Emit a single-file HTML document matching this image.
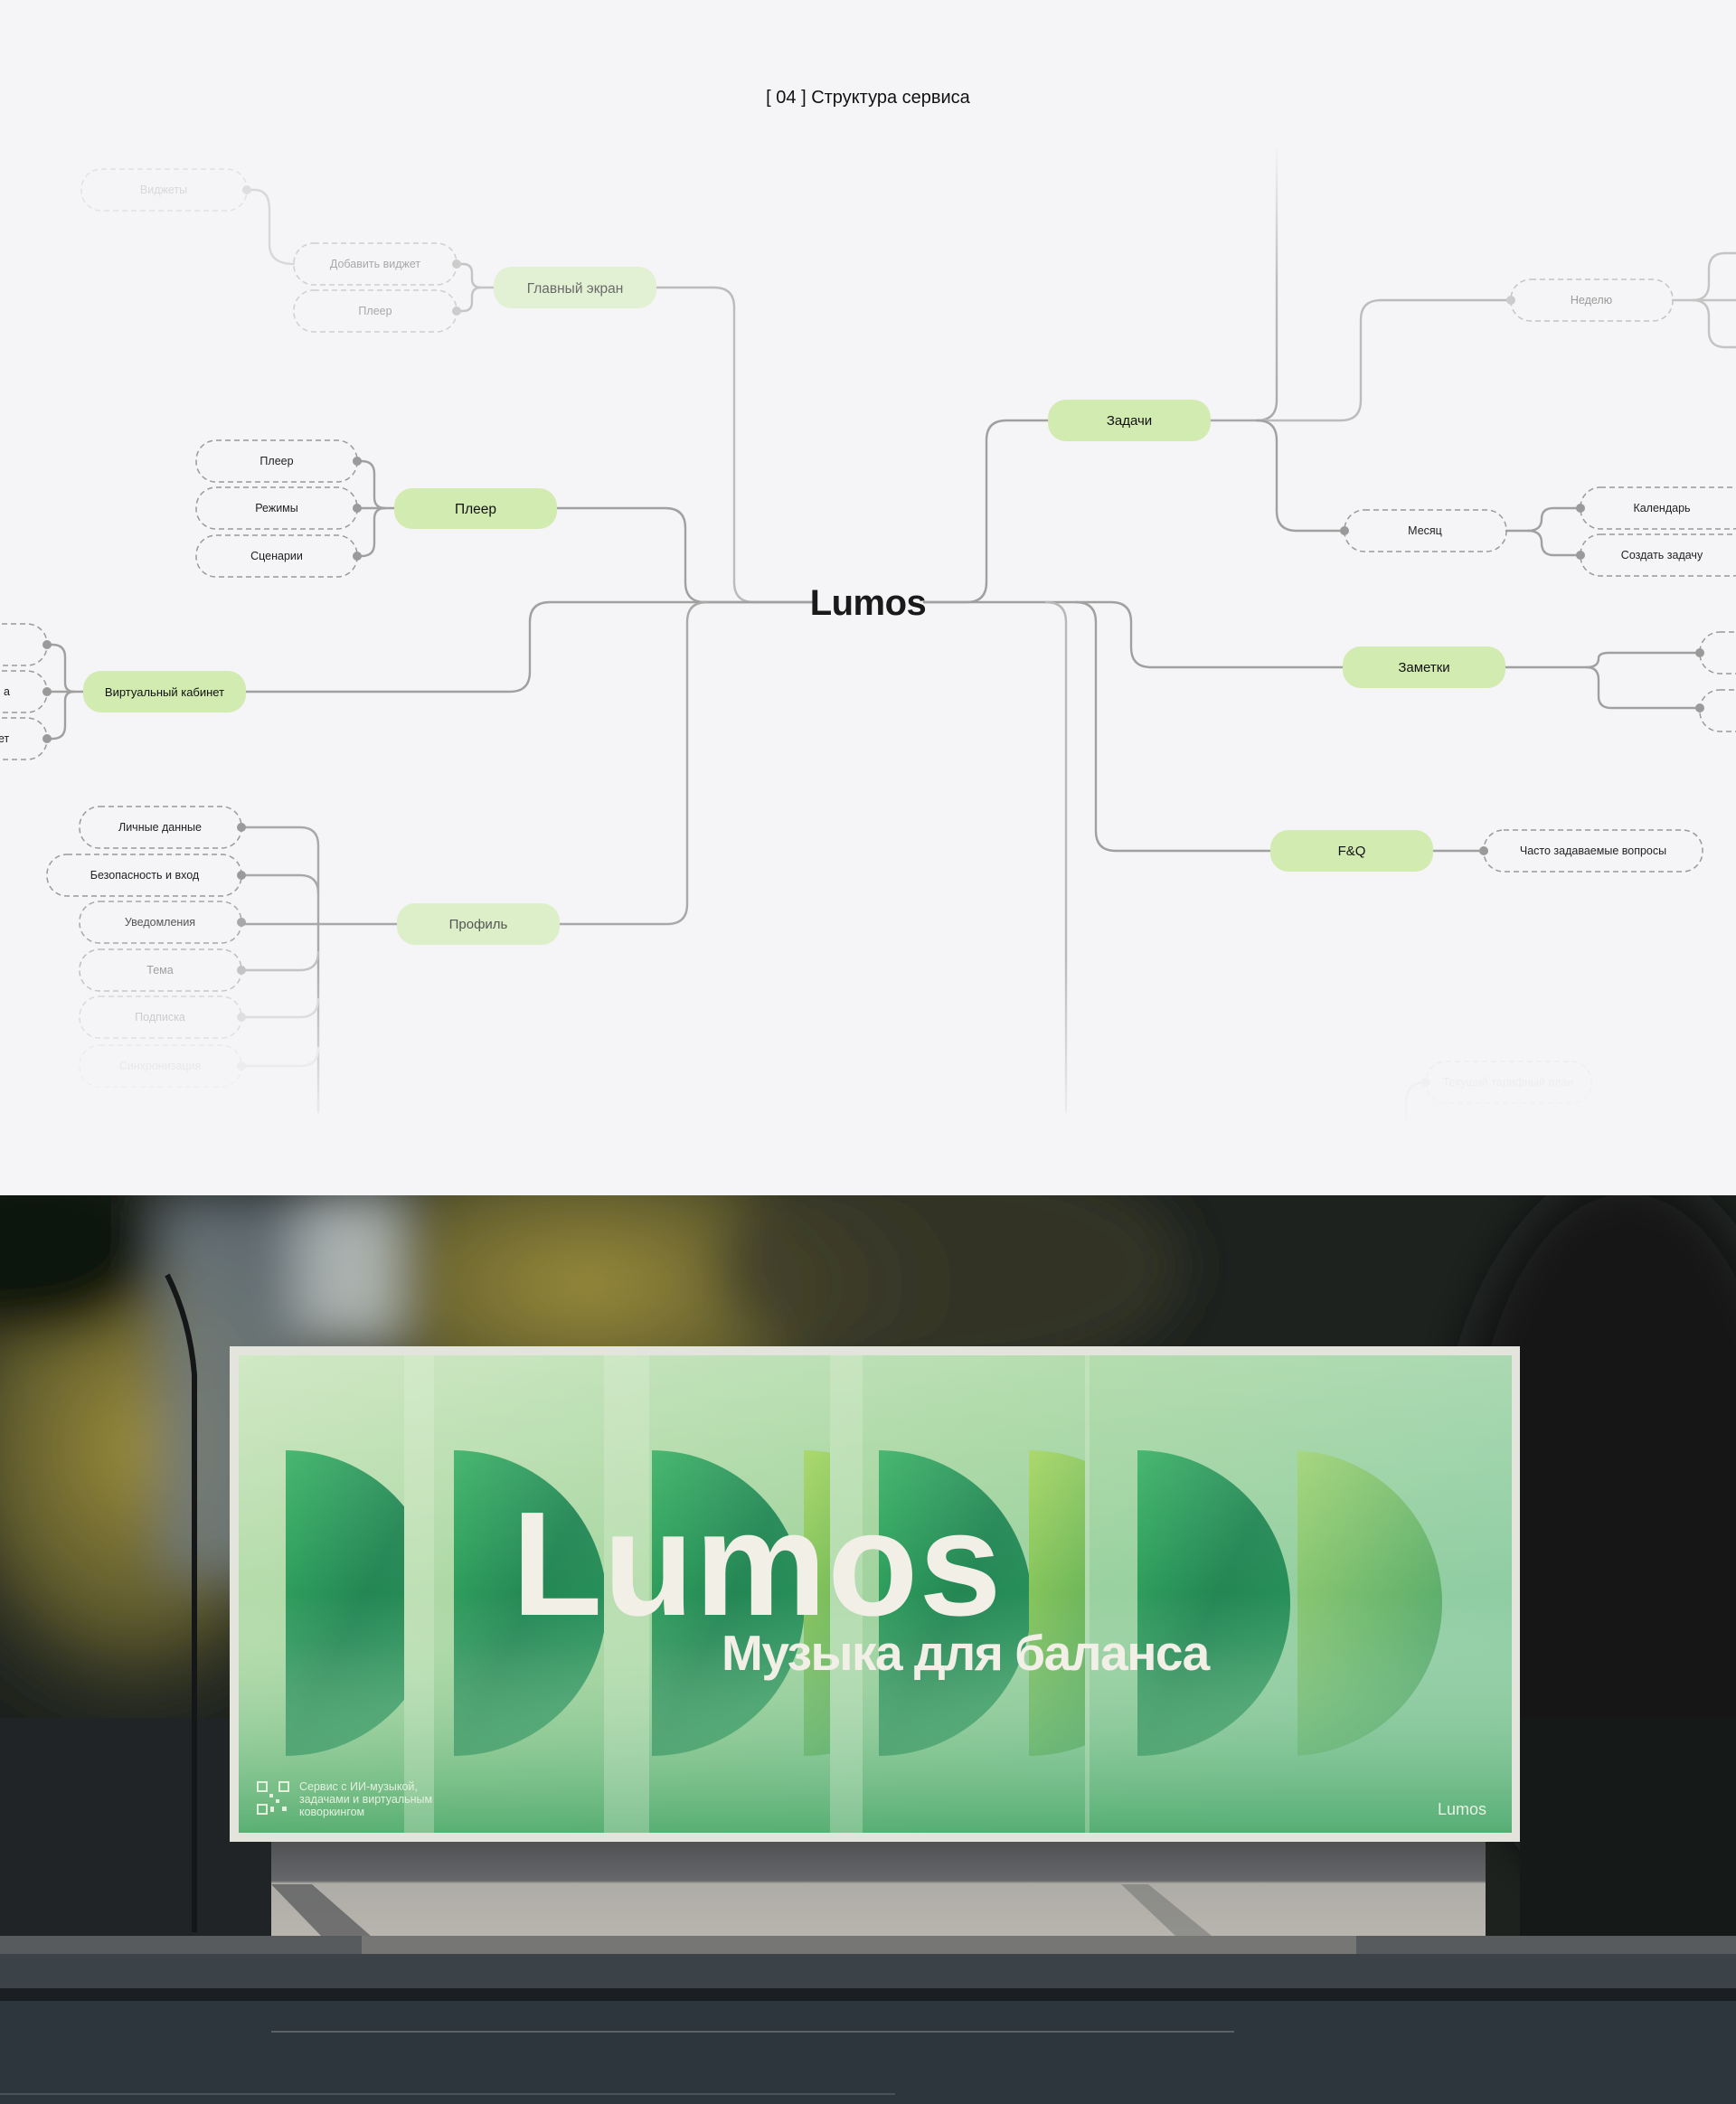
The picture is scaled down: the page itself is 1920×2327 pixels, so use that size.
<!DOCTYPE html>
<html><head><meta charset="utf-8"><style>
html,body{margin:0;padding:0;background:#f5f5f7;}
body{width:1920px;height:2327px;overflow:hidden;position:relative;font-family:"Liberation Sans","Noto Sans CJK SC",sans-serif;}
svg{position:absolute;left:0;top:0;}
</style></head><body>
<svg width="1920" height="1322" viewBox="0 0 1920 1322" font-family="Liberation Sans, Noto Sans CJK SC, sans-serif">
<defs>
<linearGradient id="fadeB" x1="0" y1="0" x2="0" y2="1"><stop offset="0" stop-color="#f5f5f7" stop-opacity="0"/><stop offset="1" stop-color="#f5f5f7" stop-opacity="1"/></linearGradient>
<linearGradient id="vfade" x1="0" y1="0" x2="0" y2="1"><stop offset="0" stop-color="#bdbdbd" stop-opacity="0"/><stop offset="0.5" stop-color="#bdbdbd"/><stop offset="1" stop-color="#a8a8a8"/></linearGradient>
</defs>
<rect width="1920" height="1322" fill="#f5f5f7"/>
<text x="960" y="114" font-size="20" text-anchor="middle" fill="#111">[ 04 ]  Структура сервиса</text>

<g fill="none" stroke-width="2.4" stroke-linecap="round">
<path d="M726,318 H790 Q812,318 812,340 V644 Q812,666 834,666 H900" stroke="#bcbcbc"/>
<path d="M616,562 H736 Q758,562 758,584 V644 Q758,666 780,666 H900" stroke="#a0a0a0"/>
<path d="M272,765 H564 Q586,765 586,743 V688 Q586,666 608,666 H900" stroke="#a0a0a0"/>
<path d="M619,1022 H738 Q760,1022 760,1000 V688 Q760,666 782,666" stroke="#a8a8a8"/>
<path d="M1022,666 H1069 Q1091,666 1091,644 V487 Q1091,465 1113,465 H1159" stroke="#a0a0a0"/>
<path d="M1022,666 H1229 Q1251,666 1251,688 V716 Q1251,738 1273,738 H1485" stroke="#a0a0a0"/>
<path d="M1190,666 Q1212,666 1212,688 V919 Q1212,941 1234,941 H1405" stroke="#a0a0a0"/>
<path d="M1157,666 Q1179,666 1179,688 V1230" stroke="#b8b8b8"/>
<path d="M1338,465 H1390 Q1412,465 1412,443 V160" stroke="url(#vfade)"/>
<path d="M1390,465 H1483 Q1505,465 1505,443 V354 Q1505,332 1527,332 H1671" stroke="#bcbcbc"/>
<path d="M1390,465 Q1412,465 1412,487 V565 Q1412,587 1434,587 H1487" stroke="#a0a0a0"/>
<path d="M1666,587 H1690 Q1705,587 1705,574 Q1705,562 1718,562 H1748" stroke="#a0a0a0"/>
<path d="M1690,587 Q1705,587 1705,600 Q1705,614 1718,614 H1748" stroke="#a0a0a0"/>
<path d="M1850,332 H1872 Q1890,332 1890,314 V298 Q1890,280 1908,280 H1920" stroke="#c4c4c4"/>
<path d="M1872,332 Q1890,332 1890,350 V366 Q1890,384 1908,384 H1920" stroke="#c4c4c4"/>
<path d="M1920,332 H1872" stroke="#c4c4c4"/>
<path d="M1665,738 H1755 Q1768,738 1768,728 Q1768,722 1780,722 H1880" stroke="#a0a0a0"/>
<path d="M1755,738 Q1768,738 1768,752 V770 Q1768,783 1782,783 H1880" stroke="#a0a0a0"/>
<path d="M1585,941 H1641" stroke="#a0a0a0"/>
<path d="M546,318 H532 Q522,318 522,308 V302 Q522,292 512,292 H505" stroke="#c4c4c4"/>
<path d="M532,318 Q522,318 522,328 V334 Q522,344 512,344 H505" stroke="#c4c4c4"/>
<path d="M325,292 Q298,292 298,270 V232 Q298,210 282,210 H273" stroke="#d8d8d8"/>
<path d="M436,562 H395" stroke="#a0a0a0"/>
<path d="M426,562 Q414,562 414,550 V524 Q414,510 400,510 H395" stroke="#a0a0a0"/>
<path d="M426,562 Q414,562 414,574 V601 Q414,615 400,615 H395" stroke="#a0a0a0"/>
<path d="M92,765 H52" stroke="#a0a0a0"/>
<path d="M82,765 Q72,765 72,755 V727 Q72,713 58,713 H52" stroke="#a0a0a0"/>
<path d="M82,765 Q72,765 72,775 V803 Q72,817 58,817 H52" stroke="#a0a0a0"/>
<path d="M439,1022 H267" stroke="#a8a8a8"/>
<path d="M267,915 H332 Q352,915 352,935 V1230" stroke="#a8a8a8"/>
<path d="M267,968 H332 Q352,968 352,988" stroke="#a8a8a8"/>
<path d="M267,1073 H332 Q352,1073 352,1053" stroke="#c0c0c0"/>
<path d="M267,1125 H332 Q352,1125 352,1105" stroke="#d0d0d0"/>
<path d="M267,1179 H332 Q352,1179 352,1159" stroke="#dcdcdc"/>
<path d="M1577,1197 Q1555,1197 1555,1220 V1240" stroke="#e4e4e4"/>
</g>

<g>
<rect x="546" y="295" width="180" height="46" rx="20" fill="#e2f0d4"/>
<text x="636" y="324" font-size="15.5" text-anchor="middle" fill="#6a6a6a">Главный экран</text>
<rect x="436" y="540" width="180" height="45" rx="20" fill="#d2ebb0"/>
<text x="526" y="568" font-size="15.5" text-anchor="middle" fill="#111">Плеер</text>
<rect x="1159" y="442" width="180" height="46" rx="20" fill="#d2ebb0"/>
<text x="1249" y="470" font-size="15" text-anchor="middle" fill="#111">Задачи</text>
<rect x="1485" y="715" width="180" height="46" rx="20" fill="#d2ebb0"/>
<text x="1575" y="743" font-size="15" text-anchor="middle" fill="#111">Заметки</text>
<rect x="1405" y="918" width="180" height="46" rx="20" fill="#d2ebb0"/>
<text x="1495" y="946" font-size="15" text-anchor="middle" fill="#111">F&amp;Q</text>
<rect x="439" y="999" width="180" height="46" rx="20" fill="#dcefc8"/>
<text x="529" y="1027" font-size="15" text-anchor="middle" fill="#555">Профиль</text>
<rect x="92" y="742" width="180" height="46" rx="20" fill="#d2ebb0"/>
<text x="182" y="770" font-size="13" text-anchor="middle" fill="#111">Виртуальный кабинет</text>
</g>

<g fill="none" stroke-width="1.5" stroke-dasharray="6 4">
<rect x="90" y="187" width="183" height="46" rx="22" stroke="#e2e2e2"/>
<rect x="325" y="269" width="180" height="46" rx="22" stroke="#cfcfcf"/>
<rect x="325" y="321" width="180" height="46" rx="22" stroke="#cfcfcf"/>
<rect x="217" y="487" width="178" height="46" rx="22" stroke="#9a9a9a"/>
<rect x="217" y="539" width="178" height="46" rx="22" stroke="#9a9a9a"/>
<rect x="217" y="592" width="178" height="46" rx="22" stroke="#9a9a9a"/>
<rect x="-130" y="690" width="182" height="46" rx="22" stroke="#9a9a9a"/>
<rect x="-130" y="742" width="182" height="46" rx="22" stroke="#9a9a9a"/>
<rect x="-130" y="794" width="182" height="46" rx="22" stroke="#9a9a9a"/>
<rect x="88" y="892" width="179" height="46" rx="22" stroke="#9a9a9a"/>
<rect x="52" y="945" width="215" height="46" rx="22" stroke="#9a9a9a"/>
<rect x="88" y="997" width="179" height="46" rx="22" stroke="#a8a8a8"/>
<rect x="88" y="1050" width="179" height="46" rx="22" stroke="#bcbcbc"/>
<rect x="88" y="1102" width="179" height="46" rx="22" stroke="#d0d0d0"/>
<rect x="88" y="1156" width="179" height="46" rx="22" stroke="#e0e0e0"/>
<rect x="1671" y="309" width="179" height="46" rx="22" stroke="#c4c4c4"/>
<rect x="1487" y="564" width="179" height="46" rx="22" stroke="#9a9a9a"/>
<rect x="1748" y="539" width="190" height="46" rx="22" stroke="#9a9a9a"/>
<rect x="1748" y="591" width="190" height="46" rx="22" stroke="#9a9a9a"/>
<rect x="1880" y="699" width="100" height="46" rx="22" stroke="#9a9a9a"/>
<rect x="1880" y="763" width="100" height="46" rx="22" stroke="#9a9a9a"/>
<rect x="1641" y="918" width="242" height="46" rx="22" stroke="#9a9a9a"/>
<rect x="1577" y="1174" width="183" height="46" rx="22" stroke="#e2e2e2"/>
</g>

<g>
<circle cx="273" cy="210" r="5" fill="#dedede"/>
<circle cx="505" cy="292" r="5" fill="#cccccc"/><circle cx="505" cy="344" r="5" fill="#cccccc"/>
<circle cx="395" cy="510" r="5" fill="#9a9a9a"/><circle cx="395" cy="562" r="5" fill="#9a9a9a"/><circle cx="395" cy="615" r="5" fill="#9a9a9a"/>
<circle cx="52" cy="713" r="5" fill="#9a9a9a"/><circle cx="52" cy="765" r="5" fill="#9a9a9a"/><circle cx="52" cy="817" r="5" fill="#9a9a9a"/>
<circle cx="267" cy="915" r="5" fill="#9a9a9a"/><circle cx="267" cy="968" r="5" fill="#9a9a9a"/><circle cx="267" cy="1020" r="5" fill="#a8a8a8"/>
<circle cx="267" cy="1073" r="5" fill="#c0c0c0"/><circle cx="267" cy="1125" r="5" fill="#d4d4d4"/><circle cx="267" cy="1179" r="5" fill="#e0e0e0"/>
<circle cx="1671" cy="332" r="5" fill="#cccccc"/>
<circle cx="1487" cy="587" r="5" fill="#9a9a9a"/>
<circle cx="1748" cy="562" r="5" fill="#9a9a9a"/><circle cx="1748" cy="614" r="5" fill="#9a9a9a"/>
<circle cx="1880" cy="722" r="5" fill="#9a9a9a"/><circle cx="1880" cy="783" r="5" fill="#9a9a9a"/>
<circle cx="1641" cy="941" r="5" fill="#9a9a9a"/>
<circle cx="1577" cy="1197" r="5" fill="#e6e6e6"/>
</g>

<g font-size="12.5" text-anchor="middle">
<text x="181" y="214" fill="#d8d8d8">Виджеты</text>
<text x="415" y="296" fill="#a8a8a8">Добавить виджет</text>
<text x="415" y="348" fill="#a8a8a8">Плеер</text>
<text x="306" y="514" fill="#222">Плеер</text>
<text x="306" y="566" fill="#222">Режимы</text>
<text x="306" y="619" fill="#222">Сценарии</text>
<text x="4" y="769" fill="#222" text-anchor="start">а</text>
<text x="-2" y="821" fill="#222" text-anchor="start">ет</text>
<text x="177" y="919" fill="#222">Личные данные</text>
<text x="160" y="972" fill="#222">Безопасность и вход</text>
<text x="177" y="1024" fill="#555">Уведомления</text>
<text x="177" y="1077" fill="#999">Тема</text>
<text x="177" y="1129" fill="#b8b8b8">Подписка</text>
<text x="177" y="1183" fill="#d4d4d4">Синхронизация</text>
<text x="1760" y="336" fill="#999">Неделю</text>
<text x="1576" y="591" fill="#222">Месяц</text>
<text x="1838" y="566" fill="#222">Календарь</text>
<text x="1838" y="618" fill="#222">Создать задачу</text>
<text x="1762" y="945" fill="#222">Часто задаваемые вопросы</text>
<text x="1668" y="1201" fill="#dcdcdc">Текущий тарифный план</text>
</g>

<text x="960" y="680" font-size="40" font-weight="bold" text-anchor="middle" fill="#1a1a1a" letter-spacing="-0.5">Lumos</text>

<rect x="0" y="1060" width="1920" height="200" fill="url(#fadeB)"/>
</svg>

<svg width="1920" height="1005" viewBox="0 1322 1920 1005" style="top:1322px">
<defs>
<filter id="blur" x="-10%" y="-10%" width="120%" height="120%"><feGaussianBlur stdDeviation="28"/></filter>
<radialGradient id="olive" cx="0.5" cy="0.5" r="0.5"><stop offset="0" stop-color="#9c8e3c"/><stop offset="0.6" stop-color="#6e6830" stop-opacity="0.8"/><stop offset="1" stop-color="#2a2e24" stop-opacity="0"/></radialGradient>
<linearGradient id="poster" x1="0" y1="0" x2="1" y2="0.6"><stop offset="0" stop-color="#c6e3b8"/><stop offset="0.5" stop-color="#a4d59e"/><stop offset="1" stop-color="#8ccca4"/></linearGradient>
<linearGradient id="posterV" x1="0" y1="0" x2="0" y2="1"><stop offset="0" stop-color="#fff" stop-opacity="0.18"/><stop offset="0.5" stop-color="#fff" stop-opacity="0"/><stop offset="1" stop-color="#2f9a58" stop-opacity="0.45"/></linearGradient>
<linearGradient id="disc" x1="0" y1="0" x2="1" y2="1"><stop offset="0" stop-color="#2fae5e"/><stop offset="0.5" stop-color="#18804e"/><stop offset="1" stop-color="#21945a"/></linearGradient>
<linearGradient id="discY" x1="0" y1="0" x2="1" y2="1"><stop offset="0" stop-color="#a2d45a"/><stop offset="1" stop-color="#1c8a4c"/></linearGradient>
<linearGradient id="haze" x1="0" y1="0" x2="0" y2="1"><stop offset="0" stop-color="#9ccf96" stop-opacity="0"/><stop offset="0.6" stop-color="#9ccf96" stop-opacity="0.1"/><stop offset="1" stop-color="#6ab880" stop-opacity="0.7"/></linearGradient>
<linearGradient id="wall" x1="0" y1="0" x2="0" y2="1"><stop offset="0" stop-color="#4e5052"/><stop offset="0.42" stop-color="#66676a"/><stop offset="0.45" stop-color="#aeaca6"/><stop offset="1" stop-color="#b8b5ae"/></linearGradient>
<clipPath id="c1"><rect x="264" y="1499" width="183" height="530"/></clipPath>
<clipPath id="c2"><rect x="480" y="1499" width="188" height="530"/></clipPath>
<clipPath id="c3"><rect x="718" y="1499" width="200" height="530"/></clipPath>
<clipPath id="c4"><rect x="954" y="1499" width="246" height="530"/></clipPath>
<clipPath id="c5"><rect x="1205" y="1499" width="230" height="530"/></clipPath>
<clipPath id="c6"><rect x="1435" y="1499" width="237" height="530"/></clipPath>
</defs>
<rect x="0" y="1322" width="1920" height="1005" fill="#1d221f"/>
<g filter="url(#blur)">
<ellipse cx="150" cy="1600" rx="260" ry="330" fill="url(#olive)"/>
<ellipse cx="650" cy="1420" rx="420" ry="200" fill="url(#olive)"/>
<ellipse cx="1050" cy="1400" rx="260" ry="130" fill="#3a3a28" opacity="0.8"/>
<rect x="180" y="1322" width="150" height="420" fill="#6f7c86" opacity="0.8"/>
<rect x="330" y="1322" width="110" height="160" fill="#c2ccd2" opacity="0.8"/>
<ellipse cx="40" cy="1380" rx="140" ry="100" fill="#0f1311"/>
<ellipse cx="1800" cy="1700" rx="200" ry="400" fill="#141816"/>
</g>
<rect x="0" y="1900" width="300" height="250" fill="#202426"/>
<rect x="1681" y="1900" width="239" height="250" fill="#151918"/>
<path d="M185,1410 Q210,1460 215,1520 V2137" stroke="#141618" stroke-width="6" fill="none"/>
<rect x="300" y="2036" width="1343" height="105" fill="url(#wall)"/>
<path d="M300,2084 L355,2141 L410,2141 L345,2084 Z" fill="#5e5f60" opacity="0.8"/>
<path d="M1240,2084 L1300,2141 L1340,2141 L1270,2084 Z" fill="#6a6b6c" opacity="0.5"/>
<rect x="0" y="2141" width="1920" height="20" fill="#575b5d"/>
<rect x="400" y="2141" width="1100" height="20" fill="#8b8a86" opacity="0.6"/>
<rect x="0" y="2161" width="1920" height="38" fill="#3b4349"/>
<rect x="0" y="2199" width="1920" height="14" fill="#1b1f23"/>
<rect x="0" y="2213" width="1920" height="114" fill="#2e363d"/>
<rect x="300" y="2246" width="1065" height="2" fill="#5a6268"/>
<rect x="0" y="2315" width="990" height="2" fill="#4b535a"/>
<rect x="254" y="1489" width="1427" height="548" fill="#e3e4dc"/>
<rect x="264" y="1499" width="1408" height="528" fill="url(#poster)"/>
<g>
<path d="M316,1604 A169,169 0 0 1 316,1942 Z" fill="url(#disc)" clip-path="url(#c1)"/>
<path d="M502,1604 A169,169 0 0 1 502,1942 Z" fill="url(#disc)" clip-path="url(#c2)"/>
<path d="M721,1604 A169,169 0 0 1 721,1942 Z" fill="url(#disc)" clip-path="url(#c3)"/>
<path d="M889,1604 A169,169 0 0 1 889,1942 Z" fill="url(#discY)" clip-path="url(#c3)"/>
<path d="M972,1604 A169,169 0 0 1 972,1942 Z" fill="url(#disc)" clip-path="url(#c4)"/>
<path d="M1138,1604 A169,169 0 0 1 1138,1942 Z" fill="url(#discY)" clip-path="url(#c4)"/>
<path d="M1258,1604 A169,169 0 0 1 1258,1942 Z" fill="url(#disc)" clip-path="url(#c5)"/>
<path d="M1426,1604 A169,169 0 0 1 1426,1942 Z" fill="url(#discY)" clip-path="url(#c6)" opacity="0.7"/>
</g>
<rect x="264" y="1499" width="1408" height="528" fill="url(#haze)"/>
<rect x="264" y="1499" width="1408" height="528" fill="url(#posterV)"/>
<g fill="#e4f2dc" opacity="0.3">
<rect x="447" y="1499" width="33" height="528"/><rect x="668" y="1499" width="50" height="528"/>
<rect x="918" y="1499" width="36" height="528"/><rect x="1200" y="1499" width="5" height="528"/>
</g>
<text x="566" y="1786" font-size="164" font-weight="bold" fill="#f1efe6" letter-spacing="1" font-family="Liberation Sans, sans-serif">Lumos</text>
<text x="798" y="1847" font-size="55" font-weight="bold" fill="#f1efe6" letter-spacing="-1.5" font-family="Liberation Sans, Noto Sans CJK SC, sans-serif">Музыка для баланса</text>
<g fill="#e4f0de">
<rect x="285" y="1971" width="10" height="10" fill="none" stroke="#e4f0de" stroke-width="2"/>
<rect x="309" y="1971" width="10" height="10" fill="none" stroke="#e4f0de" stroke-width="2"/>
<rect x="285" y="1996" width="10" height="10" fill="none" stroke="#e4f0de" stroke-width="2"/>
<rect x="298" y="1984" width="4" height="4"/><rect x="305" y="1990" width="4" height="4"/><rect x="312" y="1998" width="5" height="5"/><rect x="299" y="1998" width="4" height="6"/>
</g>
<g font-size="12.5" fill="#e4f0de" font-family="Liberation Sans, Noto Sans CJK SC, sans-serif">
<text x="331" y="1980">Сервис с ИИ-музыкой,</text>
<text x="331" y="1994">задачами и виртуальным</text>
<text x="331" y="2008">коворкингом</text>
</g>
<text x="1590" y="2007" font-size="18" fill="#e8f2e4" font-family="Liberation Sans, sans-serif">Lumos</text>
</svg>
</body></html>
